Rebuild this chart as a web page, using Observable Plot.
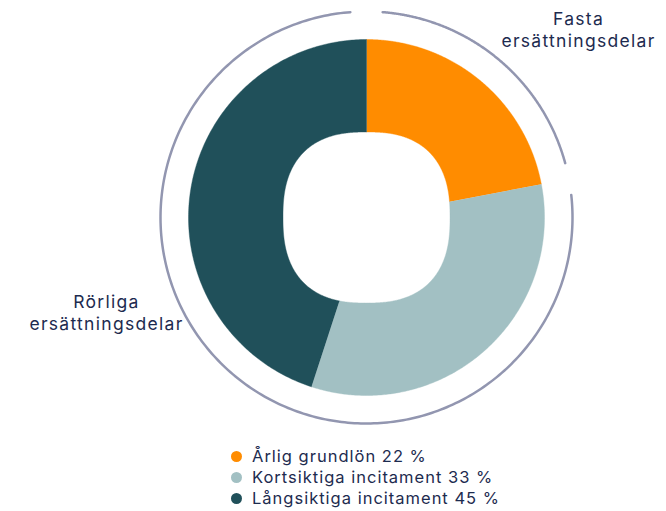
<!DOCTYPE html>
<html>
<head>
<meta charset="utf-8">
<script src="https://cdn.jsdelivr.net/npm/d3@7"></script>
<script src="https://cdn.jsdelivr.net/npm/@observablehq/plot@0.6"></script>
<style>
  html, body { margin: 0; padding: 0; background: #fff; }
  body { width: 666px; height: 511px; overflow: hidden; font-family: Inter, "Noto Sans", sans-serif; color: #1d2b4f; }
  #legend { margin: 6px 0 0 231px; font-size: 16.5px; line-height: 21px; letter-spacing: 1px; }
  .item { display: flex; align-items: center; }
  .sw { width: 11px; height: 11px; border-radius: 50%; margin-right: 10px; flex: none; }
</style>
</head>
<body>
<div id="chart"></div>
<div id="legend"></div>
<script>
// ---- data ----
const categories = ["Årlig grundlön", "Kortsiktiga incitament", "Långsiktiga incitament"];
const shares = [22, 33, 45];
const colors = ["#FF8C00", "#A2C0C3", "#20505A"];
const groupLabels = ["Fasta\nersättningsdelar", "Rörliga\nersättningsdelar"];
const groupMembers = [[0], [1, 2]];

// ---- geometry (layout) ----
const W = 666, H = 440;
const CX = 366, CY = 217;
const R_OUT = 178, HOLE_AX = 83.5, HOLE_AY = 85.5, SQ_N = 2.5;
const RING_R = 206, GAP_DEG = 4.5;
const rad = d => d * Math.PI / 180;
const holeR = t => 1 / Math.pow(Math.pow(Math.abs(Math.sin(t) / HOLE_AX), SQ_N) + Math.pow(Math.abs(Math.cos(t) / HOLE_AY), SQ_N), 1 / SQ_N);

const total = d3.sum(shares);
const cum = d3.cumsum(shares);
const startOf = i => (i === 0 ? 0 : cum[i - 1]) / total * 360;
const endOf = i => cum[i] / total * 360;

// slice polygons
const slicePts = [];
categories.forEach((c, i) => {
  const a0 = startOf(i), a1 = endOf(i), n = 240;
  for (let k = 0; k <= n; k++) {
    const t = rad(a0 + (a1 - a0) * k / n);
    slicePts.push({cat: c, x: R_OUT * Math.sin(t), y: -R_OUT * Math.cos(t)});
  }
  for (let k = n; k >= 0; k--) {
    const t = rad(a0 + (a1 - a0) * k / n);
    const r = holeR(t);
    slicePts.push({cat: c, x: r * Math.sin(t), y: -r * Math.cos(t)});
  }
});

// group ring arcs
const ringPts = [];
groupMembers.forEach((m, g) => {
  const a0 = startOf(m[0]) + GAP_DEG, a1 = endOf(m[m.length - 1]) - GAP_DEG, n = 300;
  for (let k = 0; k <= n; k++) {
    const t = rad(a0 + (a1 - a0) * k / n);
    ringPts.push({g, x: RING_R * Math.sin(t), y: -RING_R * Math.cos(t)});
  }
});

// group label anchors
const labelPos = [{x: 578 - CX, y: 28.5 - CY}, {x: 106 - CX, y: 311.5 - CY}];
const labels = groupLabels.map((t, i) => ({text: t, ...labelPos[i]}));

const chart = Plot.plot({
  width: W, height: H,
  marginTop: 0, marginRight: 0, marginBottom: 0, marginLeft: 0,
  x: {domain: [-CX, W - CX], range: [0, W], axis: null},
  y: {domain: [-CY, H - CY], range: [0, H], axis: null},
  color: {domain: categories, range: colors},
  style: {fontFamily: "Inter, 'Noto Sans', sans-serif", background: "#fff", letterSpacing: "1.3px"},
  marks: [
    Plot.line(slicePts, {x: "x", y: "y", z: "cat", fill: "cat", stroke: "cat", strokeWidth: 0.4, curve: "linear"}),
    Plot.line(ringPts, {x: "x", y: "y", z: "g", stroke: "#9296b0", strokeWidth: 2.5, curve: "linear"}),
    Plot.text(labels, {x: "x", y: "y", text: "text", fontSize: 17.5, lineHeight: 1.22, fill: "#1d2b4f", textAnchor: "middle", lineAnchor: "middle"})
  ]
});
document.getElementById("chart").appendChild(chart);

const legend = document.getElementById("legend");
categories.forEach((c, i) => {
  const row = document.createElement("div");
  row.className = "item";
  const sw = document.createElement("span");
  sw.className = "sw";
  sw.style.background = colors[i];
  const tx = document.createElement("span");
  tx.textContent = `${c} ${shares[i]} %`;
  row.appendChild(sw); row.appendChild(tx);
  legend.appendChild(row);
});
</script>
</body>
</html>
